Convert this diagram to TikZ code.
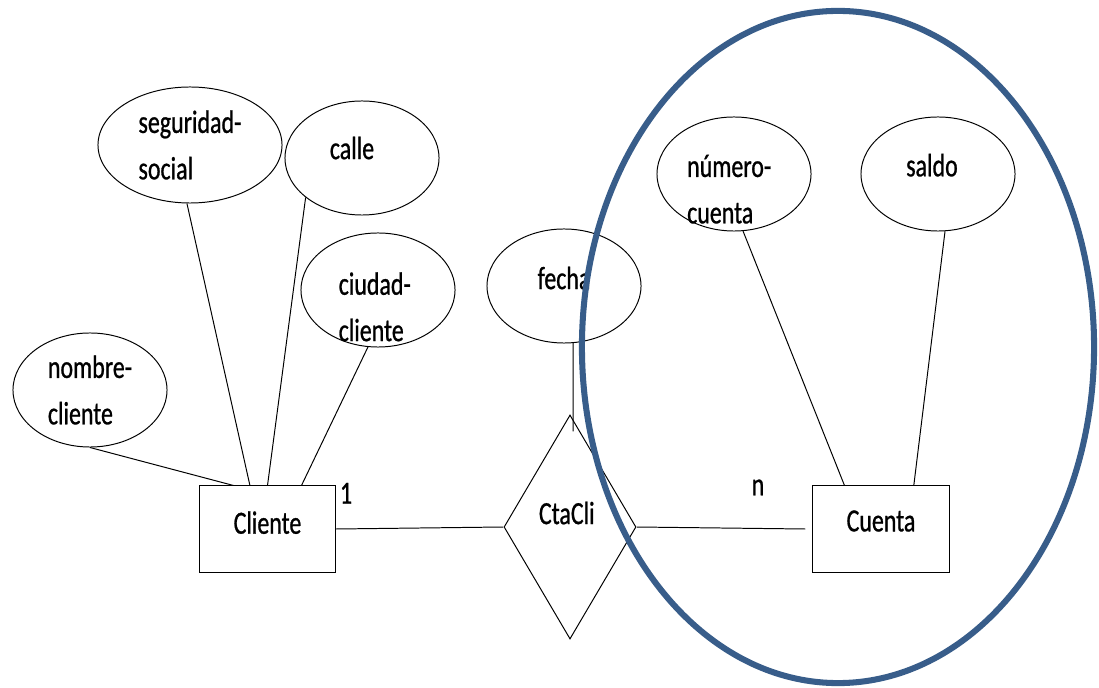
\documentclass[tikz,border=0pt]{standalone}
\usepackage{fontspec}
\setmainfont{Carlito}[FakeStretch=0.74,FakeBold=0.8]
\usetikzlibrary{shapes.geometric}
\definecolor{azul}{RGB}{56,93,138}
\begin{document}
\begin{tikzpicture}[x=0.025cm,y=-0.025cm,line width=0.7pt,
		attr/.style={draw,ellipse,inner sep=0pt,minimum width=3.85cm,minimum height=2.85cm},
		ent/.style={draw,rectangle,inner sep=0pt,minimum width=3.4cm,minimum height=2.15cm},
		rel/.style={draw,diamond,inner sep=0pt,minimum width=3.3cm,minimum height=5.6cm},
		txt/.style={font=\fontsize{23}{33}\selectfont,align=left,inner sep=0pt},
		card/.style={font=\fontsize{23}{33}\selectfont}]
			\useasboundingbox (0,0) rectangle (1099,688);
			%			Entidades
			\node[ent,label={[txt,yshift=.16cm]center:Cliente}] (cli) at (267.5,529) {};
			\node[ent,label={[txt,yshift=.2cm]center:Cuenta}] (cue) at (881,529) {};
			\node[rel,label={[txt,xshift=-.08cm,yshift=.35cm]center:CtaCli}] (cta) at (570,527) {};
			%			Atributos
			\node[attr,minimum width=4.6cm,minimum height=2.9cm,label={[txt]center:{seguridad-\\social}}] (seg) at (190,145) {};
			\node[attr,label={[txt,xshift=-.25cm,yshift=.25cm]center:calle}] (cal) at (362,158) {};
			\node[attr,label={[txt,xshift=-.08cm,yshift=-.42cm]center:{ciudad-\\cliente}}] (ciu) at (378,290) {};
			\node[attr,label={[txt]center:{nombre-\\cliente}}] (nom) at (90,390) {};
			\node[attr,label={[txt,yshift=.2cm]center:fecha}] (fec) at (564,286) {};
			\node[attr,label={[txt,xshift=-.12cm,yshift=-.38cm]center:{número-\\cuenta}}] (num) at (734,174) {};
			\node[attr,label={[txt,xshift=-.15cm,yshift=.22cm]center:saldo}] (sal) at (938,174) {};
			%			Lineas
			\draw (seg.-93) -- (cli.112);
			\draw (cal.215) -- (cli.90);
			\draw (ciu.-100) -- (cli.52);
			\draw (nom.south) -- (cli.128);
			\draw (num.-81) -- (cue.130);
			\draw (sal.-83) -- (cue.53);
			\draw (fec.-81) -- ([xshift=.08cm,yshift=-.42cm]cta.north);
			\draw (cli.east) -- node[card,pos=.06,above=.5cm] (uno) {1} (cta.west);
			\draw (cta.east) -- node[card,pos=.72,above=.7cm] (ene) {n} ([xshift=-.18cm]cue.west);
			%			Contorno
			\draw[azul,line width=4.3pt] (838,347) ellipse [x radius=6.4cm,y radius=8.4cm];
		\end{tikzpicture}
\end{document}
